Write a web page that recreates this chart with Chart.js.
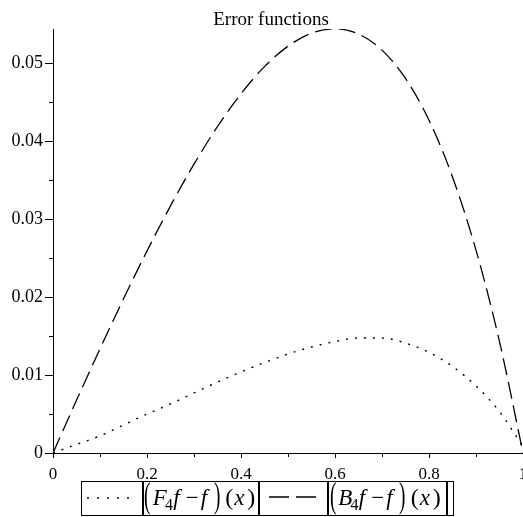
<!DOCTYPE html>
<html>
<head>
<meta charset="utf-8">
<script src="https://cdn.jsdelivr.net/npm/chart.js@4"></script>
<style>
html,body{margin:0;padding:0;background:#fff;overflow:hidden}
#wrap{position:relative;width:523px;height:517px}
#c{position:absolute;left:0;top:0}
.ov{position:absolute;white-space:nowrap;line-height:1;font-family:"Liberation Serif","Times New Roman",serif;color:#000}
.it{font-style:italic}
.bar{position:absolute;background:#000;top:481px;height:35px}
#lbox{position:absolute;left:81px;top:481px;width:373px;height:35px;box-sizing:border-box;border:1.5px solid #000}
</style>
</head>
<body>
<div id="wrap">
<canvas id="c" width="523" height="517"></canvas>
<div id="lbox"></div>
<svg class="ov" style="left:84px;top:490px" width="48" height="16"><line x1="3" y1="8" x2="46" y2="8" stroke="#000" stroke-width="1.5" stroke-dasharray="2 8"/></svg>
<svg class="ov" style="left:266px;top:489px" width="54" height="16"><line x1="3" y1="8" x2="50" y2="8" stroke="#000" stroke-width="1.5" stroke-dasharray="20 7"/></svg>
<div id="legendText"></div>
</div>
<script>
// ---- data ----
const xValues = [0, 0.05, 0.1, 0.15, 0.2, 0.25, 0.3, 0.35, 0.4, 0.45, 0.5, 0.55, 0.6, 0.65, 0.7, 0.75, 0.8, 0.85, 0.9, 0.95, 1];
const errorF4 = [0, 0.0011, 0.0022, 0.0036, 0.0050, 0.0063, 0.0077, 0.0091, 0.0104, 0.0116, 0.0127, 0.0136, 0.0143, 0.01475, 0.01475, 0.0141, 0.0129, 0.0111, 0.0086, 0.0053, 0.0008];
const errorB4 = [0, 0.00676, 0.01337, 0.01978, 0.02592, 0.03171, 0.03706, 0.04189, 0.04609, 0.04957, 0.05220, 0.05386, 0.05443, 0.05376, 0.05169, 0.04806, 0.04270, 0.03542, 0.02603, 0.01429, 0];
const xTicks = [0, 0.1, 0.2, 0.3, 0.4, 0.5, 0.6, 0.7, 0.8, 0.9, 1];
const xTickLabels = ["0", "", "0.2", "", "0.4", "", "0.6", "", "0.8", "", "1"];
const yTicks = [0, 0.005, 0.01, 0.015, 0.02, 0.025, 0.03, 0.035, 0.04, 0.045, 0.05];
const yTickLabels = ["0", "", "0.01", "", "0.02", "", "0.03", "", "0.04", "", "0.05"];
const titleText = "Error functions";
const seriesNames = ["F", "B"];

// ---- legend (HTML text with subscripts) ----
(function buildLegend(){
  const host = document.getElementById('legendText');
  const bases = [141.7, 327.3];
  const bars = [[141.7,2.2],[257.8,2.4],[327.3,2.2],[445.5,2.5]];
  bars.forEach(b=>{const d=document.createElement('div');d.className='bar';d.style.left=b[0]+'px';d.style.width=b[1]+'px';host.appendChild(d);});
  function piece(txt, left, size, baseline, italic, extra){
    const s=document.createElement('span');
    s.className='ov'+(italic?' it':'');
    s.textContent=txt;
    s.style.left=left+'px';
    s.style.fontSize=size+'px';
    s.style.top=(baseline-0.8375*size)+'px';
    if(extra) Object.assign(s.style, extra);
    host.appendChild(s);
  }
  const narrow = {transform:'scaleX(0.55)',transformOrigin:'left'};
  bases.forEach((b,i)=>{
    piece('(', b+2.5, 35, 507, false, narrow);
    piece(seriesNames[i], b+11.0, 23, 505, true);
    piece('4', b+23.3, 16, 510, false);
    piece('f', b+31.5, 23, 505, true);
    piece('\u2212', b+44.0, 23, 505, false);
    piece('f', b+59.0, 23, 505, true);
    piece(')', b+72.0, 35, 507, false, narrow);
    piece('(', b+83.5, 24, 505, false);
    piece('x', b+92.5, 23, 505, true);
    piece(')', b+105.5, 24, 505, false);
  });
})();

// ---- chart ----
const tickPlugin = {
  id: 'maplTicks',
  afterDraw(chart){
    const ctx = chart.ctx, ca = chart.chartArea;
    const xs = chart.scales.x, ys = chart.scales.y;
    ctx.save();
    ctx.strokeStyle = '#000';
    ctx.lineWidth = 1;
    ctx.beginPath();
    yTicks.forEach((v,i)=>{
      const py = Math.round(ys.getPixelForValue(v)) + 0.5;
      const len = yTickLabels[i] ? 8 : 4;
      ctx.moveTo(ca.left - len, py); ctx.lineTo(ca.left, py);
    });
    xTicks.forEach((v,i)=>{
      const px = Math.round(xs.getPixelForValue(v)) + 0.5;
      const len = xTickLabels[i] ? 5 : 4;
      ctx.moveTo(px, ca.bottom); ctx.lineTo(px, ca.bottom + len);
    });
    ctx.stroke();
    // title
    ctx.fillStyle = '#000';
    ctx.font = '19px "Liberation Serif", "Times New Roman", serif';
    ctx.textAlign = 'center';
    ctx.textBaseline = 'alphabetic';
    ctx.fillText(titleText, 271, 25);
    ctx.restore();
  }
};

const serifFamily = '"Liberation Serif", "Times New Roman", serif';

new Chart(document.getElementById('c'), {
  type: 'line',
  data: {
    datasets: [
      {
        label: '|(F4f-f)(x)|',
        data: xValues.map((x,i)=>({x, y: errorF4[i]})),
        borderColor: '#000', borderWidth: 1.4, borderDash: [2, 7],
        pointRadius: 0, cubicInterpolationMode: 'monotone', fill: false
      },
      {
        label: '|(B4f-f)(x)|',
        data: xValues.map((x,i)=>({x, y: errorB4[i]})),
        borderColor: '#000', borderWidth: 1.3, borderDash: [17, 7],
        pointRadius: 0, cubicInterpolationMode: 'monotone', fill: false
      }
    ]
  },
  options: {
    responsive: false,
    animation: false,
    devicePixelRatio: 1,
    layout: {padding: {top: 29, left: 0, right: 0, bottom: 34}},
    plugins: {legend: {display: false}, title: {display: false}, tooltip: {enabled: false}},
    scales: {
      x: {
        type: 'linear', min: 0, max: 1,
        border: {display: true, color: '#000', width: 1},
        grid: {display: false, drawTicks: false},
        afterBuildTicks: s => { s.ticks = xTicks.map(v=>({value:v})); },
        afterFit: s => { s.height = 30; s.paddingLeft = 0; s.paddingRight = 0; },
        ticks: {
          autoSkip: false, maxRotation: 0, padding: 11, color: '#000',
          font: {family: serifFamily, size: 17},
          callback: (v, i) => xTickLabels[i]
        }
      },
      y: {
        type: 'linear', min: 0, max: 0.0544,
        border: {display: true, color: '#000', width: 1},
        grid: {display: false, drawTicks: false},
        afterBuildTicks: s => { s.ticks = yTicks.map(v=>({value:v})); },
        afterFit: s => { s.width = 53; s.paddingTop = 0; s.paddingBottom = 0; },
        ticks: {
          autoSkip: false, padding: 10, color: '#000',
          font: {family: serifFamily, size: 18},
          callback: (v, i) => yTickLabels[i]
        }
      }
    }
  },
  plugins: [tickPlugin]
});
</script>
</body>
</html>
